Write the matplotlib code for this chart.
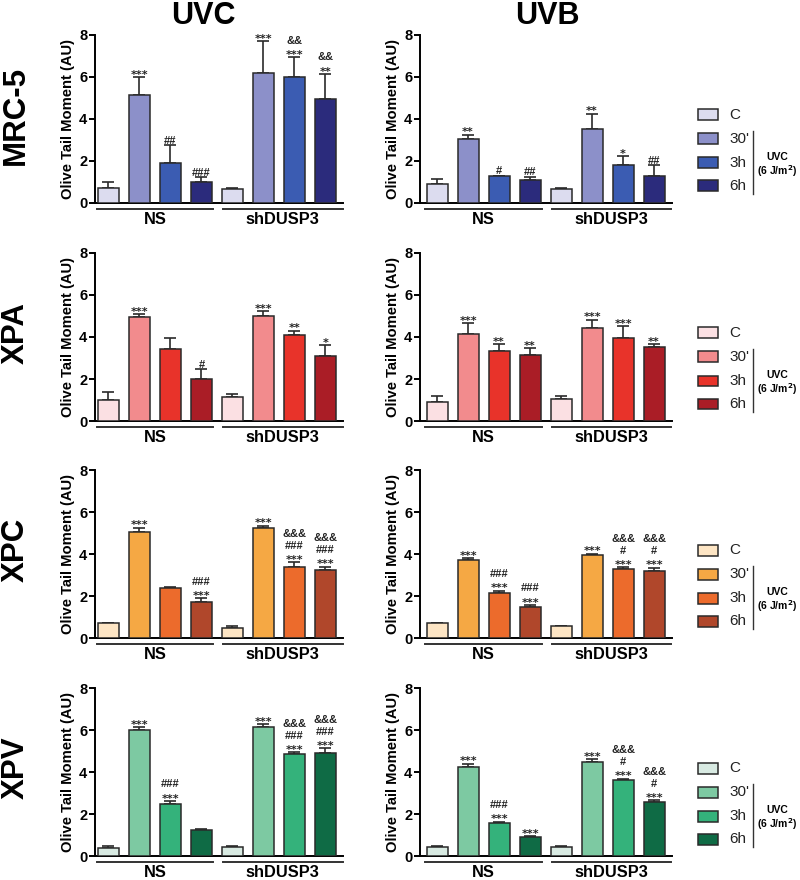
import matplotlib
matplotlib.use("Agg")
import matplotlib.pyplot as plt
from matplotlib.patches import Rectangle
from matplotlib.lines import Line2D
import matplotlib.transforms as mtransforms

plt.rcParams['font.family'] = ['Liberation Sans', 'DejaVu Sans']

W, H = 800, 880

groups = ['NS', 'shDUSP3']
times = ['C', "30'", '3h', '6h']
cell_lines = ['MRC-5', 'XPA', 'XPC', 'XPV']
treatments = ['UVC', 'UVB']

# colours per cell line: C, 30', 3h, 6h
mrc5_colors = ['#dcdcef', '#8c90c9', '#3b5cb2', '#2b2b7c']
xpa_colors = ['#fbe0e3', '#f28b8d', '#e8332a', '#aa1d26']
xpc_colors = ['#fde5c4', '#f5a844', '#ec6b2c', '#b0472b']
xpv_colors = ['#d8eae2', '#7dc9a2', '#34b27b', '#0f6b45']

# means / upper error / significance marks (NS C, 30', 3h, 6h, shDUSP3 C, 30', 3h, 6h)
mrc5_uvc_mean = [0.7, 5.15, 1.9, 1.0, 0.68, 6.2, 6.0, 4.95]
mrc5_uvc_err = [0.32, 0.85, 0.85, 0.22, 0.04, 1.5, 0.95, 1.2]
mrc5_uvc_sig = ['', '***', '##', '###', '', '***', '&&\n***', '&&\n**']

mrc5_uvb_mean = [0.9, 3.07, 1.27, 1.1, 0.67, 3.5, 1.83, 1.3]
mrc5_uvb_err = [0.25, 0.18, 0.03, 0.15, 0.04, 0.75, 0.4, 0.5]
mrc5_uvb_sig = ['', '**', '#', '##', '', '**', '*', '##']

xpa_uvc_mean = [1.0, 4.95, 3.43, 2.0, 1.15, 5.0, 4.1, 3.1]
xpa_uvc_err = [0.4, 0.15, 0.52, 0.47, 0.12, 0.24, 0.2, 0.52]
xpa_uvc_sig = ['', '***', '', '#', '', '***', '**', '*']

xpa_uvb_mean = [0.9, 4.15, 3.35, 3.15, 1.05, 4.45, 3.97, 3.52]
xpa_uvb_err = [0.3, 0.5, 0.32, 0.33, 0.15, 0.38, 0.55, 0.15]
xpa_uvb_sig = ['', '***', '**', '**', '', '***', '***', '**']

xpc_uvc_mean = [0.7, 5.07, 2.38, 1.72, 0.5, 5.22, 3.4, 3.25]
xpc_uvc_err = [0.03, 0.18, 0.07, 0.17, 0.05, 0.13, 0.2, 0.15]
xpc_uvc_sig = ['', '***', '', '###\n***', '', '***', '&&&\n###\n***', '&&&\n###\n***']

xpc_uvb_mean = [0.7, 3.72, 2.13, 1.5, 0.55, 3.95, 3.28, 3.2]
xpc_uvb_err = [0.03, 0.08, 0.12, 0.08, 0.03, 0.06, 0.1, 0.15]
xpc_uvb_sig = ['', '***', '###\n***', '###\n***', '', '***', '&&&\n#\n***', '&&&\n#\n***']

xpv_uvc_mean = [0.4, 6.0, 2.5, 1.25, 0.44, 6.15, 4.85, 4.92]
xpv_uvc_err = [0.07, 0.13, 0.12, 0.05, 0.02, 0.12, 0.1, 0.22]
xpv_uvc_sig = ['', '***', '###\n***', '', '', '***', '&&&\n###\n***', '&&&\n###\n***']

xpv_uvb_mean = [0.42, 4.25, 1.58, 0.9, 0.45, 4.5, 3.6, 2.55]
xpv_uvb_err = [0.05, 0.15, 0.05, 0.05, 0.02, 0.12, 0.08, 0.1]
xpv_uvb_sig = ['', '***', '###\n***', '***', '', '***', '&&&\n#\n***', '&&&\n#\n***']

panels = [
    [(mrc5_uvc_mean, mrc5_uvc_err, mrc5_uvc_sig), (mrc5_uvb_mean, mrc5_uvb_err, mrc5_uvb_sig)],
    [(xpa_uvc_mean, xpa_uvc_err, xpa_uvc_sig), (xpa_uvb_mean, xpa_uvb_err, xpa_uvb_sig)],
    [(xpc_uvc_mean, xpc_uvc_err, xpc_uvc_sig), (xpc_uvb_mean, xpc_uvb_err, xpc_uvb_sig)],
    [(xpv_uvc_mean, xpv_uvc_err, xpv_uvc_sig), (xpv_uvb_mean, xpv_uvb_err, xpv_uvb_sig)],
]
row_colors = [mrc5_colors, xpa_colors, xpc_colors, xpv_colors]


def fx(px):
    return px / W


def fy(py):
    return 1 - py / H


fig = plt.figure(figsize=(8, 8.8), dpi=100)

# axes pixel extents (left, right, xmin in data units)
col_x = [(95, 343, -0.435), (420, 672, -0.55)]
row_top = [35, 253, 470, 688]
row_h = 168

for r in range(4):
    colors = row_colors[r] * 2
    base_y = row_top[r] + row_h
    for c in range(2):
        x0, x1, xmin = col_x[c]
        ax = fig.add_axes([fx(x0), fy(base_y), (x1 - x0) / W, row_h / H])
        mean, err, sig = panels[r][c]
        xs = list(range(8))
        ax.bar(xs, mean, width=0.68, color=colors, edgecolor='#2a2a2a',
               linewidth=1.1, zorder=3)
        ax.errorbar(xs, mean, yerr=[[0] * 8, err], fmt='none', ecolor='#2a2a2a',
                    elinewidth=1.2, capsize=4.5, capthick=1.2, zorder=2)
        # significance marks, stacked line by line above the error bar
        for x, m, e, s in zip(xs, mean, err, sig):
            if not s:
                continue
            for i, line in enumerate(s.split('\n')[::-1]):
                if line.startswith('*'):
                    fam, shift = 'DejaVu Sans', 3.2
                else:
                    fam, shift = 'Liberation Sans', 1.0
                off_px = 5.5 + 12 * i - shift
                ax.annotate(line, (x, m + e), xytext=(0, off_px * 0.72),
                            textcoords='offset points', ha='center', va='center',
                            fontsize=8, fontweight='bold', family=fam, color='#222222')
        ax.set_xlim(xmin, xmin + (x1 - x0) / 31.0)
        ax.set_ylim(0, 8)
        ax.set_yticks([0, 2, 4, 6, 8])
        ax.set_xticks([])
        for side in ['top', 'right']:
            ax.spines[side].set_visible(False)
        for side in ['left', 'bottom']:
            ax.spines[side].set_linewidth(1.4)
        ax.tick_params(axis='y', length=4, width=1.4, pad=1.5, labelsize=10.5)
        for lab in ax.get_yticklabels():
            lab.set_fontweight('bold')
        ax.set_ylabel('Olive Tail Moment (AU)', fontsize=10.6, fontweight='bold', labelpad=3)
        # group underlines and labels
        trans = mtransforms.blended_transform_factory(ax.transData, ax.transAxes)
        for g, (a, b) in enumerate([(-0.38, 3.38), (3.7, 7.55)]):
            ax.add_line(Line2D([a, b], [-0.035, -0.035], transform=trans, color='#333333',
                               linewidth=1.4, clip_on=False))
            ax.text((a + b) / 2, -0.055, groups[g], transform=trans, ha='center', va='top',
                    fontsize=11.8, fontweight='bold')

    # legend
    offs = [88, 64, 40, 17]
    for k in range(4):
        cy = base_y - offs[k]
        fig.add_artist(Rectangle((fx(698), fy(cy + 5.5)), 20 / W, 11 / H, facecolor=row_colors[r][k],
                                 edgecolor='#2a2a2a', linewidth=1.1, transform=fig.transFigure))
        fig.text(fx(729), fy(cy), times[k], ha='left', va='center', fontsize=11, color='#222222')
    fig.add_artist(Line2D([fx(753), fx(753)], [fy(base_y - 72), fy(base_y - 9)],
                          color='#333333', linewidth=1.0, transform=fig.transFigure))
    fig.text(fx(777), fy(base_y - 46), 'UVC', ha='center', va='center', fontsize=7.5,
             fontweight='bold')
    fig.text(fx(777), fy(base_y - 32), '(6 J/m$\\mathbf{^2}$)', ha='center', va='center',
             fontsize=7.5, fontweight='bold')

    fig.text(fx(16), fy(base_y - 88), cell_lines[r], rotation=90, ha='center', va='center',
             fontsize=22.5, fontweight='bold')

fig.text(fx(203), fy(16), treatments[0], ha='center', va='center', fontsize=22, fontweight='bold')
fig.text(fx(547), fy(16), treatments[1], ha='center', va='center', fontsize=22, fontweight='bold')

fig.savefig('out.png', dpi=100)
